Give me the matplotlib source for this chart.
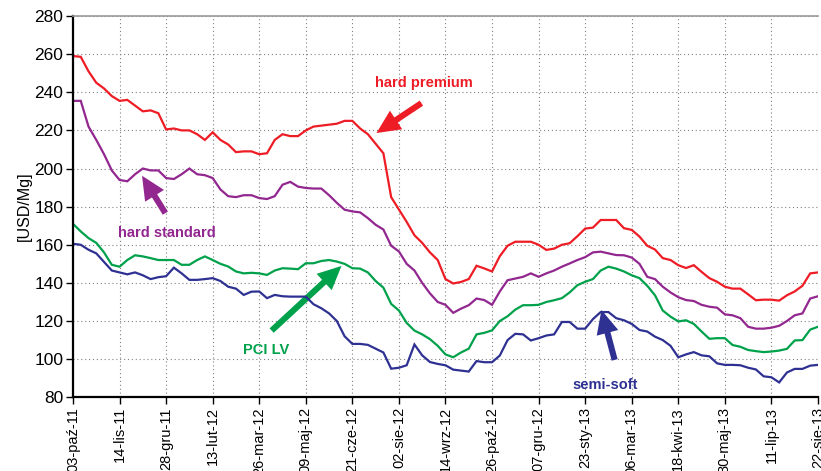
import numpy as np
import matplotlib
matplotlib.use("Agg")
import matplotlib.pyplot as plt
from matplotlib.patches import FancyArrowPatch

plt.rcParams['font.family'] = ['Liberation Sans', 'DejaVu Sans']

# x axis: weekly samples (5 business days), tick every 6 weeks
tick_labels = ['03-paź-11', '14-lis-11', '28-gru-11', '13-lut-12', '26-mar-12',
               '09-maj-12', '21-cze-12', '02-sie-12', '14-wrz-12', '26-paź-12',
               '07-gru-12', '23-sty-13', '06-mar-13', '18-kwi-13', '30-maj-13',
               '11-lip-13', '22-sie-13']

hard_premium = [259, 258.6, 251, 245, 242, 238, 235.5, 236, 233, 230, 230.5, 229,
                220.5, 221, 220, 220, 218, 215, 219, 215, 212.6, 208.6, 209, 209,
                207.5, 208, 215, 218, 217, 217, 220, 222, 222.5, 223, 223.5, 225,
                225, 221, 218, 213, 208, 185, 178.5, 172, 165, 161, 156, 152,
                142, 139.7, 140.5, 142, 149, 147.6, 146, 154, 159.5, 161.6, 161.6, 161.6,
                160, 157.3, 158, 160, 160.8, 164.5, 168.5, 169, 173, 173, 173, 168.7,
                167.8, 164.3, 159.5, 157.5, 153, 152, 149.3, 147.8, 149.3, 145.8, 142.5, 140.6,
                138, 137, 137, 134, 130.9, 131.2, 131.2, 130.7, 133.5, 135.5, 138.5, 145,
                145.5]

hard_standard = [235.5, 235.5, 222, 215, 207.5, 199, 194, 193.3, 197, 200, 199, 199,
                 195, 194.5, 197, 200, 197, 196.5, 195, 189, 185.5, 185, 186, 186,
                 184.5, 184, 185.5, 191.5, 193, 190.5, 189.8, 189.5, 189.5, 186, 182, 178.4,
                 177.5, 177, 174, 170.5, 168, 159.5, 156.5, 150, 146.5, 140, 134.5, 130,
                 128.5, 124.3, 126.5, 128.3, 131.8, 131, 128.5, 135.5, 141.4, 142.3, 143.2, 145,
                 143.2, 145, 146.5, 148.5, 150.2, 152, 153.5, 156, 156.4, 155.5, 154.6, 154.5,
                 153.3, 150, 143.2, 142, 138, 135, 132.5, 131, 130.5, 128.5, 127.5, 127,
                 123.5, 123, 121.5, 117, 116, 116, 116.5, 117.5, 120, 123, 124, 131.8,
                 133]

pci_lv = [171, 167, 163.5, 161, 156, 149.5, 148.5, 152, 154.5, 153.9, 153, 152,
          152, 152, 149.5, 149.5, 152, 153.9, 152, 150, 148.6, 146, 145, 145.3,
          145, 144.2, 146.5, 147.7, 147.5, 147.2, 150.3, 150.3, 151.5, 152, 151.2, 150,
          147.7, 147.5, 145.5, 141, 137.5, 129, 125.5, 119, 115, 113, 110.5, 107,
          102.5, 101, 103.5, 105.5, 113, 113.8, 115.1, 120, 122.5, 126, 128.3, 128.3,
          128.5, 130, 130.9, 132, 135, 138.8, 140.6, 142, 146.5, 148.5, 147.5, 146,
          144, 142.5, 138.5, 133.5, 125.5, 122.3, 119.8, 120.4, 118.5, 114.5, 110.7, 111,
          111, 107.4, 106.5, 104.8, 104.2, 103.7, 104, 104.5, 105.4, 109.8, 110, 115.5,
          117]

semi_soft = [160.5, 160, 157.4, 155.5, 151, 146.5, 145.5, 144.5, 145.5, 144, 142, 143,
             143.5, 148, 145, 141.6, 141.6, 142, 142.5, 141, 138, 137, 133.7, 135.4,
             135.5, 132, 133.7, 133, 132.8, 132.8, 132.8, 128.8, 126.7, 124, 120, 112,
             108, 108, 107.5, 105.5, 103.5, 95, 95.5, 96.8, 107.7, 102, 98.5, 97.5,
             96.8, 94.5, 94, 93.5, 99, 98.4, 98.4, 101.9, 110, 113.3, 113, 109.8,
             111, 112.4, 113, 119.5, 119.5, 116, 116, 121, 124.7, 124.7, 121.5, 120.4,
             118.5, 115.3, 114.5, 111.8, 110, 107, 101, 102.5, 103.7, 102, 101.5, 97.8,
             97, 97, 96.8, 95.5, 94.6, 91, 90.5, 87.8, 93, 94.9, 94.9, 96.6,
             97]

series_names = ['hard premium', 'hard standard', 'PCI LV', 'semi-soft']
colors = ['#EE1C25', '#92278F', '#00A14B', '#2E3192']

weeks = np.arange(len(hard_premium))
tick_pos = np.arange(0, len(hard_premium), 6)

fig = plt.figure(figsize=(8.21, 4.71), dpi=100)
ax = fig.add_axes([0.0889, 0.1565, 0.9074, 0.8095])

for vals, c in zip([hard_premium, hard_standard, pci_lv, semi_soft], colors):
    ax.plot(weeks, vals, color=c, lw=1.6, solid_joinstyle='miter')

ax.set_xlim(0, 96)
ax.set_ylim(80, 280)
ax.set_yticks(np.arange(80, 281, 20))
ax.set_xticks(tick_pos)
ax.set_xticklabels(tick_labels, rotation=90, fontsize=10.5, ha='center', va='top')
ax.tick_params(axis='y', labelsize=12.5, length=5, width=1, direction='out', pad=2)
ax.tick_params(axis='x', length=5, width=1, direction='out', pad=2)
ax.grid(True, linestyle=(0, (1, 2.5)), color='#808080', lw=0.8)
ax.set_axisbelow(True)

ax.spines['left'].set_linewidth(1.6)
ax.spines['bottom'].set_linewidth(1.6)
ax.spines['right'].set_visible(False)
ax.spines['top'].set_color('#999999')
ax.spines['top'].set_linewidth(1.2)

ax.set_ylabel('[USD/Mg]', fontsize=11.5, labelpad=2)

# annotations
labels = [
    ('hard premium', 38.9, 245, colors[0], (44.9, 234.3), (39.1, 218.6)),
    ('hard standard', 5.8, 166.2, colors[1], (11.9, 176.6), (8.9, 196.2)),
    ('PCI LV', 21.9, 104.8, colors[2], (25.6, 115.0), (34.6, 148.9)),
    ('semi-soft', 64.4, 86.5, colors[3], (69.8, 99.6), (68.1, 125.8)),
]
for text, tx, ty, c, tail, head in labels:
    ax.text(tx, ty, text, color=c, fontsize=10.5, fontweight='bold',
            ha='left', va='center')
    arr = FancyArrowPatch(tail, head,
                          arrowstyle='simple,head_length=0.85,head_width=0.8,tail_width=0.22',
                          mutation_scale=20, color=c, lw=0, shrinkA=0, shrinkB=0)
    ax.add_patch(arr)

fig.savefig('out.png', dpi=100)
